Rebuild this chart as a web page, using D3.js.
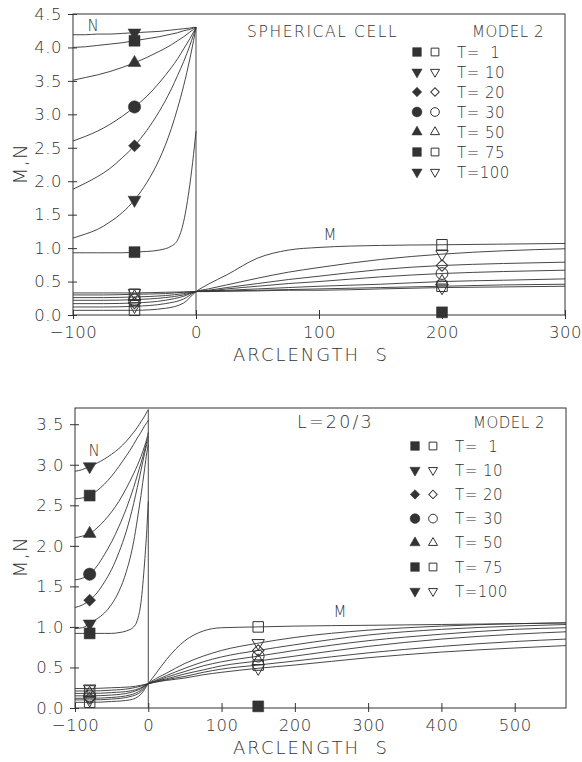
<!DOCTYPE html>
<html>
<head>
<meta charset="utf-8">
<script src="https://cdn.jsdelivr.net/npm/d3@7"></script>
<style>
  body { margin: 0; background: #fff; }
  text { font-family: "DejaVu Sans", sans-serif; font-weight: 200; fill: #333; white-space: pre; }
</style>
</head>
<body>
<svg id="chart" width="582" height="762"></svg>
<script>
// legend labels and marker shapes, in T order (1, 10, 20, 30, 50, 75, 100)
const tLabels = ["T=  1", "T= 10", "T= 20", "T= 30", "T= 50", "T= 75", "T=100"];
const shapes = ["square", "tridown", "diamond", "circle", "triangle", "square", "tridown"];

// ---- top panel: spherical cell ----
const topXTicks = [-100, 0, 100, 200, 300];
const topYTicks = [0, 0.5, 1, 1.5, 2, 2.5, 3, 3.5, 4, 4.5];
const sTopN = [-100, -90, -80, -70, -60, -50, -40, -30, -20, -15, -10, -5, -2, 0];
const topN = [
  [0.93, 0.93, 0.93, 0.93, 0.93, 0.94, 0.95, 0.97, 1.03, 1.12, 1.40, 1.95, 2.40, 2.75],
  [1.15, 1.21, 1.28, 1.39, 1.53, 1.72, 1.98, 2.32, 2.79, 3.09, 3.43, 3.83, 4.10, 4.30],
  [1.88, 1.97, 2.07, 2.19, 2.35, 2.53, 2.76, 3.04, 3.38, 3.58, 3.79, 4.03, 4.19, 4.30],
  [2.60, 2.67, 2.75, 2.85, 2.97, 3.11, 3.27, 3.47, 3.70, 3.83, 3.98, 4.13, 4.23, 4.30],
  [3.51, 3.55, 3.59, 3.64, 3.70, 3.77, 3.85, 3.94, 4.04, 4.10, 4.16, 4.23, 4.27, 4.30],
  [4.00, 4.01, 4.03, 4.05, 4.07, 4.10, 4.13, 4.16, 4.20, 4.22, 4.25, 4.27, 4.29, 4.30],
  [4.19, 4.19, 4.20, 4.20, 4.21, 4.22, 4.23, 4.24, 4.26, 4.27, 4.28, 4.29, 4.30, 4.30]
];
const sTopM = [-100, -75, -50, -25, -10, 0, 10, 25, 50, 75, 100, 150, 200, 250, 300];
const topM = [
  [0.07, 0.07, 0.07, 0.10, 0.18, 0.35, 0.46, 0.60, 0.85, 0.97, 1.01, 1.04, 1.05, 1.06, 1.07],
  [0.12, 0.12, 0.13, 0.17, 0.24, 0.35, 0.39, 0.45, 0.55, 0.64, 0.71, 0.83, 0.91, 0.96, 0.99],
  [0.17, 0.17, 0.18, 0.22, 0.28, 0.35, 0.37, 0.41, 0.47, 0.53, 0.58, 0.68, 0.74, 0.77, 0.79],
  [0.22, 0.22, 0.23, 0.26, 0.30, 0.35, 0.36, 0.39, 0.43, 0.47, 0.50, 0.57, 0.62, 0.65, 0.67],
  [0.26, 0.26, 0.27, 0.29, 0.32, 0.35, 0.36, 0.37, 0.39, 0.41, 0.43, 0.46, 0.50, 0.52, 0.54],
  [0.30, 0.30, 0.31, 0.32, 0.34, 0.35, 0.355, 0.36, 0.37, 0.38, 0.39, 0.41, 0.43, 0.45, 0.46],
  [0.33, 0.33, 0.33, 0.34, 0.345, 0.35, 0.35, 0.355, 0.36, 0.37, 0.37, 0.39, 0.41, 0.42, 0.43]
];
const topMarkS = [-50, 200];     // s where the markers sit
const topJump = [0, 4.30];       // vertical line at s=0
const topExtra = [200, 0.04];    // lone filled square

// ---- bottom panel: L = 20/3 ----
const botXTicks = [-100, 0, 100, 200, 300, 400, 500];
const botYTicks = [0, 0.5, 1, 1.5, 2, 2.5, 3, 3.5];
const sBotN = [-100, -90, -80, -70, -60, -50, -40, -30, -20, -15, -10, -5, -2, 0];
const botN = [
  [0.92, 0.92, 0.92, 0.92, 0.92, 0.92, 0.93, 0.95, 1.00, 1.08, 1.30, 1.80, 2.20, 2.55],
  [0.98, 0.99, 1.04, 1.10, 1.17, 1.28, 1.44, 1.68, 2.05, 2.32, 2.62, 2.95, 3.15, 3.25],
  [1.24, 1.27, 1.33, 1.42, 1.55, 1.71, 1.92, 2.18, 2.52, 2.72, 2.93, 3.14, 3.25, 3.30],
  [1.58, 1.60, 1.65, 1.75, 1.89, 2.05, 2.24, 2.46, 2.72, 2.87, 3.02, 3.18, 3.29, 3.35],
  [2.10, 2.12, 2.15, 2.22, 2.31, 2.42, 2.55, 2.71, 2.89, 2.99, 3.10, 3.23, 3.32, 3.40],
  [2.58, 2.59, 2.62, 2.68, 2.76, 2.86, 2.98, 3.11, 3.25, 3.33, 3.40, 3.48, 3.52, 3.55],
  [2.92, 2.94, 2.98, 3.02, 3.07, 3.13, 3.20, 3.29, 3.40, 3.46, 3.53, 3.60, 3.65, 3.68]
];
const sBotM = [-100, -80, -50, -25, -10, 0, 10, 25, 50, 75, 100, 150, 200, 300, 400, 500, 570];
const botM = [
  [0.07, 0.07, 0.08, 0.10, 0.17, 0.30, 0.42, 0.60, 0.83, 0.95, 0.99, 1.00, 1.01, 1.02, 1.03, 1.04, 1.05],
  [0.10, 0.10, 0.11, 0.14, 0.20, 0.30, 0.36, 0.43, 0.55, 0.64, 0.71, 0.80, 0.87, 0.96, 1.01, 1.04, 1.05],
  [0.12, 0.12, 0.13, 0.16, 0.22, 0.30, 0.34, 0.40, 0.49, 0.57, 0.63, 0.71, 0.78, 0.90, 0.97, 1.01, 1.03],
  [0.15, 0.15, 0.16, 0.19, 0.24, 0.30, 0.33, 0.38, 0.45, 0.52, 0.57, 0.64, 0.71, 0.83, 0.91, 0.97, 0.99],
  [0.18, 0.18, 0.19, 0.21, 0.25, 0.30, 0.33, 0.36, 0.42, 0.47, 0.52, 0.58, 0.64, 0.76, 0.85, 0.91, 0.94],
  [0.21, 0.21, 0.22, 0.24, 0.27, 0.30, 0.32, 0.35, 0.39, 0.44, 0.48, 0.53, 0.58, 0.68, 0.76, 0.82, 0.85],
  [0.24, 0.24, 0.25, 0.26, 0.28, 0.30, 0.32, 0.34, 0.37, 0.41, 0.44, 0.49, 0.53, 0.62, 0.69, 0.74, 0.77]
];
const botMarkS = [-80, 150];
const botJump = [0, 3.68];
const botExtra = [150, 0.02];

const ink = "#333";
const svg = d3.select("#chart");

function drawSymbol(g, shape, x, y, size, filled) {
    let type = d3.symbolSquare, rot = 0;
    if (shape === "circle") type = d3.symbolCircle;
    if (shape === "triangle") { type = d3.symbolTriangle; size = size * 0.6; }
    if (shape === "tridown") { type = d3.symbolTriangle; rot = 180; size = size * 0.6; }
    if (shape === "diamond") { rot = 45; size = size * 0.6; }
    g.append("path")
        .attr("d", d3.symbol(type, size)())
        .attr("transform", `translate(${x},${y}) rotate(${rot})`)
        .attr("fill", filled ? ink : "none")
        .attr("stroke", ink)
        .attr("stroke-width", filled ? 0.5 : 1);
}

function drawPanel(p) {
    const x = d3.scaleLinear().domain(p.xDomain).range([p.left, p.right]);
    const y = d3.scaleLinear().domain(p.yDomain).range([p.bottom, p.top]);
    const g = svg.append("g");

    // frame
    g.append("rect")
        .attr("x", p.left).attr("y", p.top)
        .attr("width", p.right - p.left).attr("height", p.bottom - p.top)
        .attr("fill", "none").attr("stroke", ink).attr("stroke-width", 1);

    const xAxis = g.append("g")
        .attr("transform", `translate(0,${p.bottom})`)
        .call(d3.axisBottom(x).tickValues(p.xTicks).tickSize(4).tickPadding(7).tickFormat(d3.format("d")));
    const yAxis = g.append("g")
        .attr("transform", `translate(${p.left},0)`)
        .call(d3.axisLeft(y).tickValues(p.yTicks).tickSize(5).tickPadding(6).tickFormat(d3.format(".1f")));
    [xAxis, yAxis].forEach(a => {
        a.select(".domain").remove();
        a.selectAll("line").attr("stroke", ink);
        a.selectAll("text").style("font-size", "16.5px").style("letter-spacing", "0.5px").attr("fill", "#333");
    });
    xAxis.selectAll(".tick line").attr("y1", -5);
    yAxis.selectAll(".tick line").attr("x1", 4);

    const line = d3.line().x(d => x(d[0])).y(d => y(d[1])).curve(d3.curveMonotoneX);

    p.nVals.forEach(vals => {
        g.append("path")
            .datum(p.sN.map((s, i) => [s, vals[i]]))
            .attr("d", line).attr("fill", "none").attr("stroke", ink).attr("stroke-width", 0.9);
    });
    p.mVals.forEach(vals => {
        g.append("path")
            .datum(p.sM.map((s, i) => [s, vals[i]]))
            .attr("d", line).attr("fill", "none").attr("stroke", ink).attr("stroke-width", 0.9);
    });
    g.append("line")
        .attr("x1", x(p.jump[0])).attr("x2", x(p.jump[0]))
        .attr("y1", y(0)).attr("y2", y(p.jump[1]))
        .attr("stroke", ink).attr("stroke-width", 0.9);

    // markers on the curves
    const iN = p.sN.indexOf(p.markS[0]);
    const iM0 = p.sM.indexOf(p.markS[0]);
    const iM1 = p.sM.indexOf(p.markS[1]);
    p.nVals.forEach((vals, k) => drawSymbol(g, shapes[k], x(p.markS[0]), y(vals[iN]), 120, true));
    p.mVals.forEach((vals, k) => {
        drawSymbol(g, shapes[k], x(p.markS[0]), y(vals[iM0]), 110, false);
        drawSymbol(g, shapes[k], x(p.markS[1]), y(vals[iM1]), 110, false);
    });
    drawSymbol(g, "square", x(p.extra[0]), y(p.extra[1]), 120, true);

    // curve labels
    g.append("text").attr("x", p.nLabel[0]).attr("y", p.nLabel[1])
        .attr("text-anchor", "middle").style("font-size", "15px").text("N");
    g.append("text").attr("x", p.mLabel[0]).attr("y", p.mLabel[1])
        .attr("text-anchor", "middle").style("font-size", "15px").text("M");

    // titles
    g.append("text").attr("x", p.titleX).attr("y", p.titleY)
        .style("font-size", p.titleSize + "px").style("letter-spacing", p.titleSpacing + "px").text(p.title);
    g.append("text").attr("x", p.modelX).attr("y", p.titleY)
        .style("font-size", "15px").style("letter-spacing", "0.5px").text("MODEL 2");

    // legend
    tLabels.forEach((t, k) => {
        const cy = p.legTop + k * p.legStep;
        drawSymbol(g, shapes[k], p.legX, cy, 76, true);
        drawSymbol(g, shapes[k], p.legX + 18, cy, 60, false);
        g.append("text").attr("x", p.legX + 40).attr("y", cy + 5.5)
            .style("font-size", "15px").style("letter-spacing", "0.5px").text(t);
    });

    // axis titles
    g.append("text").attr("x", 311).attr("y", p.bottom + 46)
        .attr("text-anchor", "middle").style("font-size", "18px").style("letter-spacing", "2px")
        .text("ARCLENGTH  S");
    g.append("text")
        .attr("transform", `translate(27,${p.ylabY}) rotate(-90)`)
        .attr("text-anchor", "middle").style("font-size", "20px").style("letter-spacing", "1px").text("M,N");
}

drawPanel({
    xDomain: [-100, 300], yDomain: [0, 4.5],
    left: 73, right: 565, top: 14, bottom: 315,
    xTicks: topXTicks, yTicks: topYTicks,
    sN: sTopN, nVals: topN, sM: sTopM, mVals: topM,
    markS: topMarkS, jump: topJump, extra: topExtra,
    nLabel: [93, 31], mLabel: [330, 240],
    title: "SPHERICAL CELL", titleX: 247, titleY: 37, titleSize: 15.5, titleSpacing: 1.6, modelX: 472,
    legX: 417, legTop: 52, legStep: 20, ylabY: 164
});

drawPanel({
    xDomain: [-100, 570], yDomain: [0, 3.7],
    left: 75, right: 566, top: 408, bottom: 708,
    xTicks: botXTicks, yTicks: botYTicks,
    sN: sBotN, nVals: botN, sM: sBotM, mVals: botM,
    markS: botMarkS, jump: botJump, extra: botExtra,
    nLabel: [94, 456], mLabel: [340, 617],
    title: "L=20/3", titleX: 297, titleY: 428, titleSize: 17.5, titleSpacing: 2.2, modelX: 473,
    legX: 415, legTop: 446, legStep: 24.2, ylabY: 557
});
</script>
</body>
</html>
